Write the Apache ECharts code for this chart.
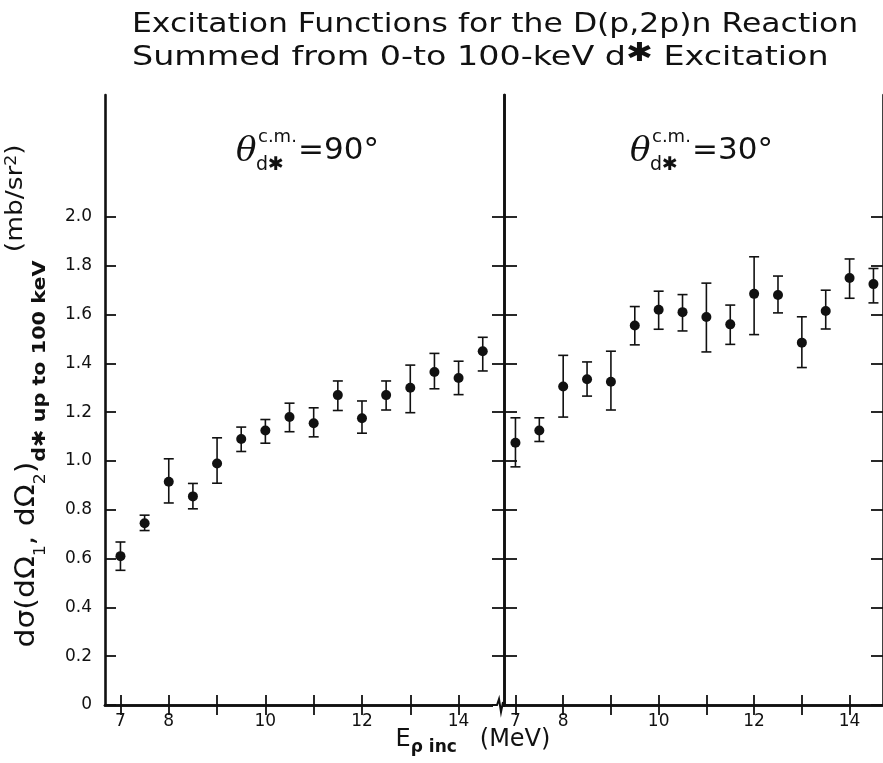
<!DOCTYPE html>
<html>
<head>
<meta charset="utf-8">
<script src="https://cdn.jsdelivr.net/npm/echarts@6/dist/echarts.min.js"></script>
<style>
html,body{margin:0;padding:0;background:#fff;}
#chart{width:883px;height:763px;}
</style>
</head>
<body>
<div id="chart"></div>
<script>
// ---- data ----
const energies = [7, 7.5, 8, 8.5, 9, 9.5, 10, 10.5, 11, 11.5, 12, 12.5, 13, 13.5, 14, 14.5];

const val90 = [0.61, 0.745, 0.915, 0.855, 0.99, 1.09, 1.125, 1.18, 1.155, 1.27, 1.175, 1.27, 1.30, 1.365, 1.34, 1.45];
const lo90  = [0.552, 0.715, 0.828, 0.804, 0.909, 1.039, 1.073, 1.120, 1.099, 1.207, 1.114, 1.209, 1.198, 1.296, 1.272, 1.369];
const hi90  = [0.668, 0.778, 1.009, 0.908, 1.095, 1.139, 1.170, 1.237, 1.218, 1.328, 1.246, 1.328, 1.393, 1.441, 1.409, 1.507];

const val30 = [1.075, 1.125, 1.305, 1.335, 1.325, 1.555, 1.62, 1.61, 1.59, 1.56, 1.685, 1.68, 1.485, 1.615, 1.75, 1.725];
const lo30  = [0.976, 1.080, 1.180, 1.266, 1.209, 1.476, 1.540, 1.533, 1.447, 1.478, 1.518, 1.607, 1.383, 1.541, 1.667, 1.648];
const hi30  = [1.177, 1.177, 1.433, 1.406, 1.450, 1.633, 1.696, 1.682, 1.729, 1.639, 1.837, 1.758, 1.591, 1.700, 1.828, 1.789];

const xTickValues  = [7, 8, 9, 10, 11, 12, 13, 14];
const xLabelValues = [7, 8, 10, 12, 14];
const yTickValues  = [0, 0.2, 0.4, 0.6, 0.8, 1.0, 1.2, 1.4, 1.6, 1.8, 2.0];

const titleLine1 = 'Excitation Functions for the D(p,2p)n Reaction';
const titleLine2a = 'Summed from 0-to 100-keV d';
const titleLine2b = ' Excitation';

// ---- build ----
const FONT = '"DejaVu Sans", sans-serif';
const INK = '#111';

function pts(v) { return energies.map((e, i) => [e, v[i]]); }
function bars(lo, hi) { return energies.map((e, i) => [e, lo[i], hi[i]]); }

function errRender(params, api) {
  const x = api.value(0);
  const a = api.coord([x, api.value(1)]);
  const b = api.coord([x, api.value(2)]);
  const w = 5;
  const st = { stroke: INK, lineWidth: 1.6 };
  return {
    type: 'group',
    children: [
      { type: 'line', shape: { x1: a[0], y1: a[1], x2: b[0], y2: b[1] }, style: st },
      { type: 'line', shape: { x1: a[0] - w, y1: a[1], x2: a[0] + w, y2: a[1] }, style: st },
      { type: 'line', shape: { x1: b[0] - w, y1: b[1], x2: b[0] + w, y2: b[1] }, style: st }
    ]
  };
}

const axisLineStyle = { show: true, lineStyle: { color: INK, width: 2.6 } };

function xAx(grid, pos, min, max, labels) {
  return {
    type: 'value', gridIndex: grid, position: pos, min: min, max: max,
    axisLine: axisLineStyle,
    axisTick: { show: true, inside: true, length: 10, customValues: xTickValues, lineStyle: { color: INK, width: 1.8 } },
    axisLabel: labels ? { show: true, customValues: xLabelValues, color: INK, fontSize: 17, fontFamily: FONT, margin: 8 } : { show: false },
    splitLine: { show: false }
  };
}
function yAx(grid, pos, labels, len) {
  return {
    type: 'value', gridIndex: grid, position: pos, min: 0, max: 2.5,
    axisLine: axisLineStyle,
    axisTick: { show: true, inside: true, length: len, customValues: yTickValues, lineStyle: { color: INK, width: 1.8 } },
    axisLabel: labels ? {
      show: true, customValues: yTickValues, color: INK, fontSize: 17, fontFamily: FONT, margin: 13,
      formatter: v => (v === 0 ? '0' : v.toFixed(1))
    } : { show: false },
    splitLine: { show: false }
  };
}

function thetaLabel(x0, deg) {
  return {
    type: 'group',
    children: [
      { type: 'text', x: x0, y: 152, style: { text: 'θ', font: 'italic 34px "DejaVu Serif", serif', fill: INK, align: 'left', verticalAlign: 'middle' } },
      { type: 'text', x: x0 + 22, y: 137, style: { text: 'c.m.', font: '18px ' + FONT, fill: INK, align: 'left', verticalAlign: 'middle' } },
      { type: 'text', x: x0 + 20, y: 165, style: { text: 'd✱', font: '19px ' + FONT, fill: INK, align: 'left', verticalAlign: 'middle' } },
      { type: 'text', x: x0 + 62, y: 151, style: { text: '=' + deg + '°', font: '31px ' + FONT, fill: INK, align: 'left', verticalAlign: 'middle' } }
    ]
  };
}

const option = {
  backgroundColor: '#fff',
  animation: false,
  grid: [
    { left: 105, top: 95, width: 399, height: 610, containLabel: false },
    { left: 504, top: 95, width: 386, height: 610, containLabel: false }
  ],
  xAxis: [
    xAx(0, 'bottom', 6.68, 14.94, true),
    xAx(0, 'top', 6.68, 14.94, false),
    xAx(1, 'bottom', 6.76, 14.70, true),
    xAx(1, 'top', 6.76, 14.70, false)
  ],
  yAxis: [
    yAx(0, 'left', true, 11),
    yAx(0, 'right', false, 12),
    yAx(1, 'left', false, 13),
    yAx(1, 'right', false, 12)
  ],
  series: [
    { type: 'custom', xAxisIndex: 0, yAxisIndex: 0, data: bars(lo90, hi90), renderItem: errRender, encode: { x: 0, y: [1, 2] }, z: 3 },
    { type: 'scatter', xAxisIndex: 0, yAxisIndex: 0, data: pts(val90), symbol: 'circle', symbolSize: 10, itemStyle: { color: INK, opacity: 1 }, z: 4 },
    { type: 'custom', xAxisIndex: 2, yAxisIndex: 2, data: bars(lo30, hi30), renderItem: errRender, encode: { x: 0, y: [1, 2] }, z: 3 },
    { type: 'scatter', xAxisIndex: 2, yAxisIndex: 2, data: pts(val30), symbol: 'circle', symbolSize: 10, itemStyle: { color: INK, opacity: 1 }, z: 4 }
  ],
  graphic: [
    { type: 'text', x: 132, y: 25, scaleX: 1.165, style: { text: titleLine1, font: '27px ' + FONT, fill: INK, align: 'left', verticalAlign: 'middle' } },
    { type: 'text', x: 132, y: 58, scaleX: 1.235, style: {
        text: '{a|' + titleLine2a + '}{s|✱}{a|' + titleLine2b + '}',
        fill: INK, align: 'left', verticalAlign: 'middle',
        rich: { a: { fontSize: 27, fontFamily: FONT, fill: INK, lineHeight: 34, verticalAlign: 'middle' }, s: { fontSize: 26, fontWeight: 'bold', fontFamily: FONT, fill: INK, verticalAlign: 'top', lineHeight: 26 } }
      } },
    thetaLabel(236, 90),
    thetaLabel(630, 30),
    { type: 'text', x: 473, y: 740, style: {
        text: '{e|E}{p|ρ inc}{e|   (MeV)}',
        align: 'center', verticalAlign: 'middle', fill: INK,
        rich: {
          e: { fontSize: 24, fontFamily: FONT, fill: INK, lineHeight: 32, verticalAlign: 'middle' },
          p: { fontSize: 17, fontWeight: 'bold', fontFamily: FONT, fill: INK, lineHeight: 16, verticalAlign: 'bottom' }
        }
      } },
    { type: 'text', x: 27, y: 396, rotation: Math.PI / 2, scaleX: 1.15, style: {
        text: '{a|dσ(dΩ}{s|1}{a|, dΩ}{s|2}{a|)}{b|d✱ up to 100 keV}{c| (mb/sr}{cs|2}{c|)}',
        align: 'center', verticalAlign: 'middle', fill: INK,
        rich: {
          a: { fontSize: 26, fontFamily: FONT, fill: INK, lineHeight: 44, verticalAlign: 'middle' },
          s: { fontSize: 15, fontFamily: FONT, fill: INK, lineHeight: 18, verticalAlign: 'bottom' },
          b: { fontSize: 18, fontWeight: 'bold', fontFamily: FONT, fill: INK, lineHeight: 26, verticalAlign: 'bottom' },
          c: { fontSize: 23, fontFamily: FONT, fill: INK, lineHeight: 30, verticalAlign: 'top' },
          cs: { fontSize: 15, fontFamily: FONT, fill: INK, lineHeight: 18, verticalAlign: 'top' }
        }
      } },
    { type: 'rect', shape: { x: 493, y: 702, width: 9, height: 6 }, style: { fill: '#fff' }, z: 100 },
    { type: 'polyline', shape: { points: [[492, 705], [497, 705], [499, 699], [501, 712], [503, 702]] }, style: { stroke: INK, lineWidth: 2, fill: null }, z: 101 }
  ]
};

const chart = echarts.init(document.getElementById('chart'), null, { renderer: 'canvas' });
chart.setOption(option);
</script>
</body>
</html>
